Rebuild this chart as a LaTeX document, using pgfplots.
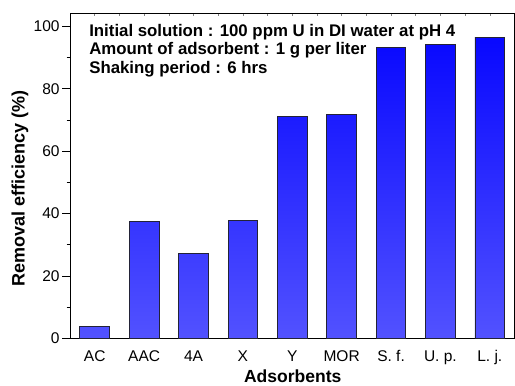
\documentclass[border=0pt]{standalone}
\usepackage{pgfplots}
\pgfplotsset{compat=1.18}
\usepackage{fontspec}
\setmainfont{Liberation Sans}
\definecolor{bartop}{RGB}{8,8,255}
\definecolor{barbot}{RGB}{82,82,255}
\definecolor{baredge}{RGB}{35,35,55}
\begin{document}
\begin{tikzpicture}
\begin{axis}[
  at={(0pt,0pt)}, anchor=south west,
  scale only axis, width=444pt, height=325pt,
  xmin=-0.5, xmax=8.5, ymin=0, ymax=104.3,
  axis x line*=bottom, axis y line*=left,
  axis line style={line width=0.9pt, black},
  xtick={0,1,2,3,4,5,6,7,8},
  xticklabels={AC,AAC,4A,X,Y,MOR,S. f.,U. p.,L. j.},
  major x tick style={draw=none},
  extra x ticks={0.5,1.5,2.5,3.5,4.5,5.5,6.5,7.5},
  extra x tick labels={},
  extra x tick style={major tick length=4.5pt, tick align=outside, major tick style={draw=black, line width=0.8pt}},
  ytick={0,20,40,60,80,100},
  minor ytick={10,30,50,70,90},
  tick align=outside,
  major tick length=8pt,
  minor tick length=3.5pt,
  minor tick style={tick align=inside},
  every tick/.style={black, line width=0.8pt},
  tick label style={font=\fontsize{15.5}{17}\selectfont},
  /pgf/number format/assume math mode=true,
  xticklabel style={yshift=-0.5pt},
  yticklabel style={xshift=1pt},
  ylabel={\bfseries Removal efficiency (\%)},
  ylabel style={font=\fontsize{18}{20}\selectfont, at={(axis description cs:-0.1126,0.461)}, anchor=center, rotate=0},
  xlabel={\bfseries Adsorbents},
  xlabel style={font=\fontsize{17.5}{19}\selectfont, at={(axis description cs:0.501,-0.135)}, anchor=base},
  clip=false,
]
\addplot[ybar, bar width=0.6, draw=baredge, line width=0.9pt, top color=bartop, bottom color=barbot]
  coordinates {(0,3.7) (1,37.5) (2,27.1) (3,37.8) (4,71.0) (5,71.8) (6,93.3) (7,94.3) (8,96.6)};
\node[anchor=north west, align=left, font=\bfseries\fontsize{16.8}{18.2}\selectfont, inner sep=0pt]
  at (axis description cs:0.0428,0.965) {Initial solution : 100 ppm U in DI water at pH 4\\Amount of adsorbent : 1 g per liter\\Shaking period : 6 hrs};
\end{axis}
\begin{axis}[
  at={(0pt,0pt)}, anchor=south west,
  scale only axis, width=444pt, height=325pt,
  xmin=-0.5, xmax=8.5, ymin=0, ymax=104.3,
  axis x line*=top, axis y line*=right,
  axis line style={line width=0.9pt, black},
  xtick={0,0.5,...,8}, xticklabels={},
  ytick=\empty,
  tick align=inside, major tick length=2.5pt,
  every tick/.style={gray, line width=0.6pt},
]
\end{axis}
\pgfresetboundingbox
\path (-70pt,-47pt) rectangle (444.5pt,338pt);
\end{tikzpicture}
\end{document}
